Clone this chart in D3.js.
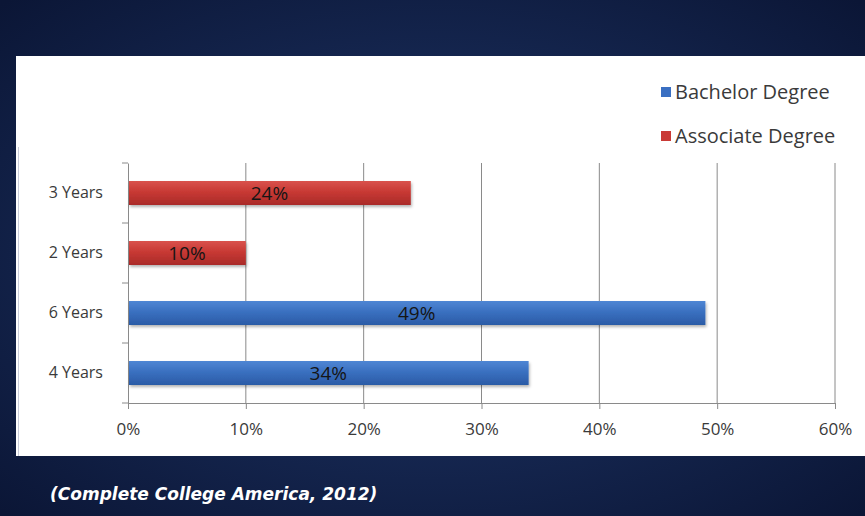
<!DOCTYPE html>
<html>
<head>
<meta charset="utf-8">
<script src="https://cdn.jsdelivr.net/npm/d3@7"></script>
<style>
  html, body { margin: 0; padding: 0; background: #0f1e45; }
  svg { display: block; font-family: 'Open Sans', sans-serif; }
</style>
</head>
<body>
<div class="graphContainer"></div>
<script>
// Chart data, top bar first
const categories = ['3 Years', '2 Years', '6 Years', '4 Years'];
const values = [24, 10, 49, 34];
const seriesOf = ['Associate Degree', 'Associate Degree', 'Bachelor Degree', 'Bachelor Degree'];
const legendNames = ['Bachelor Degree', 'Associate Degree'];
const xTicks = [0, 10, 20, 30, 40, 50, 60];
const source = '(Complete College America, 2012)';

const W = 865, H = 516;
const colors = { 'Bachelor Degree': 'blueGrad', 'Associate Degree': 'redGrad' };
const swatch = { 'Bachelor Degree': '#3a6fc2', 'Associate Degree': '#c93a36' };

const svg = d3.select('.graphContainer')
    .append('svg')
    .attr('width', W)
    .attr('height', H);

const defs = svg.append('defs');

// Background gradient (dark navy slide)
const bg = defs.append('radialGradient')
    .attr('id', 'bgGrad')
    .attr('cx', '50%').attr('cy', '50%').attr('r', '70%');
bg.append('stop').attr('offset', '0%').attr('stop-color', '#20386c');
bg.append('stop').attr('offset', '100%').attr('stop-color', '#0b1636');

// Bar gradients, lighter on top
const addBarGrad = (id, top, mid, bottom) => {
    const g = defs.append('linearGradient')
        .attr('id', id)
        .attr('x1', 0).attr('y1', 0).attr('x2', 0).attr('y2', 1);
    g.append('stop').attr('offset', '0%').attr('stop-color', top);
    g.append('stop').attr('offset', '45%').attr('stop-color', mid);
    g.append('stop').attr('offset', '100%').attr('stop-color', bottom);
};
addBarGrad('blueGrad', '#4f86d4', '#3a70c0', '#2b5ba6');
addBarGrad('redGrad', '#d9524c', '#c83934', '#a92a28');

const shadow = defs.append('filter').attr('id', 'shadow')
    .attr('x', '-5%').attr('y', '-20%').attr('width', '110%').attr('height', '160%');
shadow.append('feDropShadow')
    .attr('dx', 1).attr('dy', 2).attr('stdDeviation', 1.5)
    .attr('flood-color', '#000').attr('flood-opacity', 0.3);

svg.append('rect')
    .attr('width', W).attr('height', H)
    .attr('fill', 'url(#bgGrad)');

// White chart panel
svg.append('rect')
    .attr('x', 16).attr('y', 56)
    .attr('width', W - 16).attr('height', 400)
    .attr('fill', '#ffffff');
svg.append('line')
    .attr('x1', 18.5).attr('x2', 18.5)
    .attr('y1', 147).attr('y2', 456)
    .attr('stroke', '#c8ccd8');

// Scales
const x = d3.scaleLinear()
    .domain([0, 60])
    .range([128, 835]);

const y = d3.scaleBand()
    .domain(categories)
    .range([163, 403])
    .paddingInner(0.6)
    .paddingOuter(0.3);

// Gridlines
svg.append('g')
    .selectAll('line')
    .data(xTicks.slice(1))
    .enter()
    .append('line')
    .attr('x1', d => x(d)).attr('x2', d => x(d))
    .attr('y1', 163).attr('y2', 403)
    .attr('stroke', '#8a8a8a')
    .attr('stroke-width', 1);

// Axes
const xAxis = svg.append('g')
    .attr('transform', 'translate(0,403)')
    .call(d3.axisBottom(x).tickValues(xTicks).tickFormat(d => d + '%').tickSize(6).tickPadding(14));

const yAxis = svg.append('g')
    .attr('transform', 'translate(128,0)')
    .call(d3.axisLeft(y).tickSize(0).tickPadding(25));

// Category boundary ticks on the y axis
svg.append('g')
    .selectAll('line')
    .data(d3.range(categories.length + 1))
    .enter()
    .append('line')
    .attr('x1', 122).attr('x2', 128)
    .attr('y1', i => 163 + i * 60).attr('y2', i => 163 + i * 60)
    .attr('stroke', '#8a8a8a');

[xAxis, yAxis].forEach(a => {
    a.select('.domain').attr('stroke', '#8a8a8a');
    a.selectAll('.tick line').attr('stroke', '#8a8a8a');
    a.selectAll('text')
        .attr('fill', '#3a3a3a')
        .style('font-family', "'Open Sans', sans-serif");
});
xAxis.selectAll('text').style('font-size', '17px');
yAxis.selectAll('text').style('font-size', '16px');

// Bars
svg.append('g')
    .selectAll('rect')
    .data(categories)
    .enter()
    .append('rect')
    .attr('x', x(0) + 1)
    .attr('y', d => y(d))
    .attr('width', (d, i) => x(values[i]) - x(0) - 1)
    .attr('height', y.bandwidth())
    .attr('fill', (d, i) => `url(#${colors[seriesOf[i]]})`)
    .attr('filter', 'url(#shadow)');

// Data labels centred on each bar
svg.append('g')
    .selectAll('text')
    .data(categories)
    .enter()
    .append('text')
    .attr('x', (d, i) => (x(0) + x(values[i])) / 2)
    .attr('y', d => y(d) + y.bandwidth() / 2 + 7)
    .attr('text-anchor', 'middle')
    .attr('fill', '#151515')
    .style('font-size', '19px')
    .text((d, i) => values[i] + '%');

// Legend
const legend = svg.append('g');
legendNames.forEach((name, i) => {
    const ly = 92 + i * 44;
    legend.append('rect')
        .attr('x', 661).attr('y', ly - 5)
        .attr('width', 10).attr('height', 10)
        .attr('fill', swatch[name]);
    legend.append('text')
        .attr('x', 675).attr('y', ly + 7)
        .attr('fill', '#3a3a3a')
        .style('font-size', '20px')
        .text(name);
});

// Source caption
svg.append('text')
    .attr('x', 50).attr('y', 500)
    .attr('fill', '#ffffff')
    .style('font-family', "'DejaVu Sans', sans-serif")
    .style('font-size', '17px')
    .style('font-style', 'italic')
    .style('font-weight', 'bold')
    .text(source);
</script>
</body>
</html>
